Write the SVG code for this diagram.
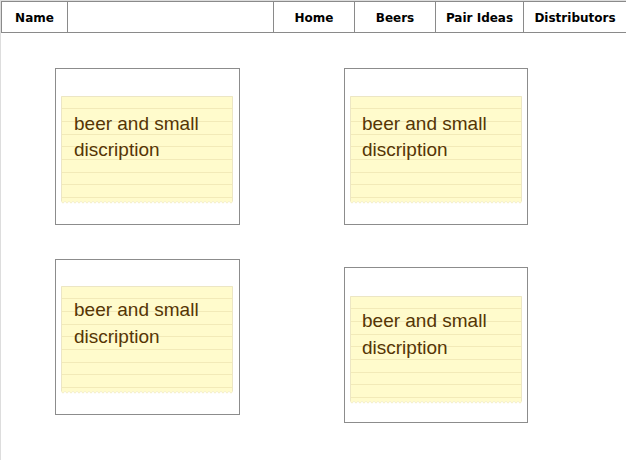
<svg xmlns="http://www.w3.org/2000/svg" xmlns:xlink="http://www.w3.org/1999/xlink" width="626" height="460" viewBox="0 0 626 460">
<style>
.page{fill:#ffffff;stroke:#dddddd;stroke-width:1}
.hdr{fill:#ffffff;stroke:#8a8a8a;stroke-width:1}
.hdrtxt{font-family:"DejaVu Sans",Verdana,sans-serif;font-weight:bold;font-size:12px;fill:#000000;text-anchor:middle}
.card{fill:#ffffff;stroke:#8c8c8c;stroke-width:1}
.txt{font-family:"Liberation Sans",Arial,sans-serif;font-size:19px;fill:#553505}
.rule{stroke:#f2eab8;stroke-width:1}
</style>
<defs>
<pattern id="teeth" x="0" y="0" width="4" height="3" patternUnits="userSpaceOnUse">
<path d="M0,0 H4 L3,1.5 Q2,2.6 1,1.5 Z" fill="#fffbcc"/>
<path d="M4,0 L3,1.5 Q2,2.6 1,1.5 L0,0" fill="none" stroke="#ece6c4" stroke-width="0.6"/>
</pattern>
<g id="note">
<rect x="0" y="0" width="172" height="105" fill="#fffbcc"/>
<rect x="0" y="105" width="172" height="3" fill="url(#teeth)"/>
<path d="M0.5,105 V0.5 H171.5 V105" fill="none" stroke="#ece6c4" stroke-width="1"/>
<g class="rule">
<line x1="1" y1="12.5" x2="171" y2="12.5"/>
<line x1="1" y1="25.5" x2="171" y2="25.5"/>
<line x1="1" y1="38.5" x2="171" y2="38.5"/>
<line x1="1" y1="50.5" x2="171" y2="50.5"/>
<line x1="1" y1="63.5" x2="171" y2="63.5"/>
<line x1="1" y1="76.5" x2="171" y2="76.5"/>
<line x1="1" y1="88.5" x2="171" y2="88.5"/>
<line x1="1" y1="101.5" x2="171" y2="101.5"/>
</g>
</g>
</defs>
<rect class="page" x="0.5" y="0.5" width="626" height="460"/>
<g id="header">
<rect class="hdr" x="1.5" y="1.5" width="626" height="31"/>
<line class="hdr" x1="67.5" y1="1.5" x2="67.5" y2="32.5"/>
<line class="hdr" x1="273.5" y1="1.5" x2="273.5" y2="32.5"/>
<line class="hdr" x1="354.5" y1="1.5" x2="354.5" y2="32.5"/>
<line class="hdr" x1="435.5" y1="1.5" x2="435.5" y2="32.5"/>
<line class="hdr" x1="523.5" y1="1.5" x2="523.5" y2="32.5"/>
<text class="hdrtxt" x="34.5" y="21.5">Name</text>
<text class="hdrtxt" x="314" y="21.5">Home</text>
<text class="hdrtxt" x="395" y="21.5">Beers</text>
<text class="hdrtxt" x="479.5" y="21.5">Pair Ideas</text>
<text class="hdrtxt" x="575" y="21.5">Distributors</text>
</g>
<g id="card1">
<rect class="card" x="55.5" y="68.5" width="184" height="156"/>
<use xlink:href="#note" href="#note" x="61" y="96"/>
<text class="txt" x="74" y="130">beer and small</text>
<text class="txt" x="74" y="156">discription</text>
</g>
<g id="card2">
<rect class="card" x="344.5" y="68.5" width="183" height="156"/>
<use xlink:href="#note" href="#note" x="350" y="96"/>
<text class="txt" x="362" y="130">beer and small</text>
<text class="txt" x="362" y="156">discription</text>
</g>
<g id="card3">
<rect class="card" x="55.5" y="259.5" width="184" height="155"/>
<use xlink:href="#note" href="#note" x="61" y="286"/>
<text class="txt" x="74" y="316">beer and small</text>
<text class="txt" x="74" y="343">discription</text>
</g>
<g id="card4">
<rect class="card" x="344.5" y="267.5" width="183" height="155"/>
<use xlink:href="#note" href="#note" x="350" y="296"/>
<text class="txt" x="362" y="327">beer and small</text>
<text class="txt" x="362" y="354">discription</text>
</g>
<g id="connectors"/>
</svg>
